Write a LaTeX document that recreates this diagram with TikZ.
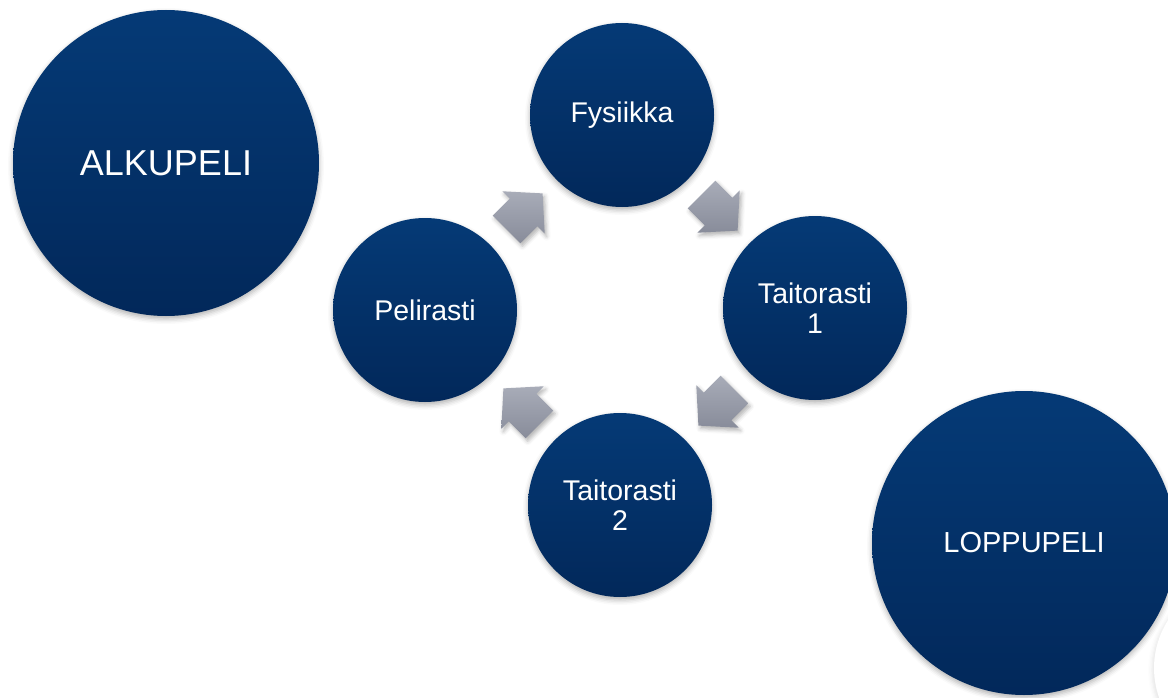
\documentclass[tikz,border=0pt]{standalone}
\usepackage{fontspec}
\setmainfont{Liberation Sans}
\usetikzlibrary{calc,shadows.blur}
\definecolor{navytop}{HTML}{053A76}
\definecolor{navybot}{HTML}{02285A}
\definecolor{graytop}{HTML}{A8ACB8}
\definecolor{graybot}{HTML}{888C9A}
\begin{document}
\begin{tikzpicture}[x=1pt,y=-1pt,
  ball/.style={circle, inner sep=0pt, top color=navytop, bottom color=navybot,
    text=white, align=center,
    blur shadow={shadow xshift=0pt, shadow yshift=-3pt, shadow blur radius=5pt, shadow opacity=30}},
  smallball/.style={ball, minimum size=184pt, font=\fontsize{28.5}{30}\selectfont},
  blockarrow/.style={top color=graytop, bottom color=graybot, draw=none,
    blur shadow={shadow xshift=2pt, shadow yshift=-3pt, shadow blur radius=4pt, shadow opacity=30}}
]
\useasboundingbox (0,0) rectangle (1168,698);

% faint decoration at the bottom-right corner
\fill[white, blur shadow={shadow xshift=-2pt, shadow yshift=-2pt, shadow blur radius=4pt, shadow opacity=10}] (1242,668) circle (88);

\node[ball, minimum size=306pt, font=\fontsize{36}{40}\selectfont] (alku) at (166,163) {ALKUPELI};
\node[ball, minimum size=304pt, font=\fontsize{29}{32}\selectfont] (loppu) at (1024,543) {LOPPUPELI};

\node[smallball] (fys) at (622,115) {Fysiikka};
\node[smallball] (tai1) at (815,308) {Taitorasti\\1};
\node[smallball] (tai2) at (620,505) {Taitorasti\\2};
\node[smallball] (pel) at (425,310) {Pelirasti};

% block arrows between the cycle circles
\begin{scope}[shift={($(pel.center)!0.5!(fys.center)$)}, x={(0.7071pt,0.7071pt)}, y={(0.7071pt,-0.7071pt)}]
  \path[blockarrow] (-24,-19.5) -- (0,-19.5) -- (0,-30) -- (27,0) -- (0,30) -- (0,19.5) -- (-24,19.5) -- cycle;
\end{scope}
\begin{scope}[shift={($(fys.center)!0.5!(tai1.center)$)}, x={(0.7071pt,-0.7071pt)}, y={(-0.7071pt,-0.7071pt)}]
  \path[blockarrow] (-24,-19.5) -- (0,-19.5) -- (0,-30) -- (27,0) -- (0,30) -- (0,19.5) -- (-24,19.5) -- cycle;
\end{scope}
\begin{scope}[shift={($(tai1.center)!0.5!(tai2.center)$)}, x={(-0.7071pt,-0.7071pt)}, y={(-0.7071pt,0.7071pt)}]
  \path[blockarrow] (-24,-19.5) -- (0,-19.5) -- (0,-30) -- (27,0) -- (0,30) -- (0,19.5) -- (-24,19.5) -- cycle;
\end{scope}
\begin{scope}[shift={($(tai2.center)!0.5!(pel.center)$)}, x={(-0.7071pt,0.7071pt)}, y={(0.7071pt,0.7071pt)}]
  \path[blockarrow] (-24,-19.5) -- (0,-19.5) -- (0,-30) -- (27,0) -- (0,30) -- (0,19.5) -- (-24,19.5) -- cycle;
\end{scope}
\end{tikzpicture}
\end{document}
